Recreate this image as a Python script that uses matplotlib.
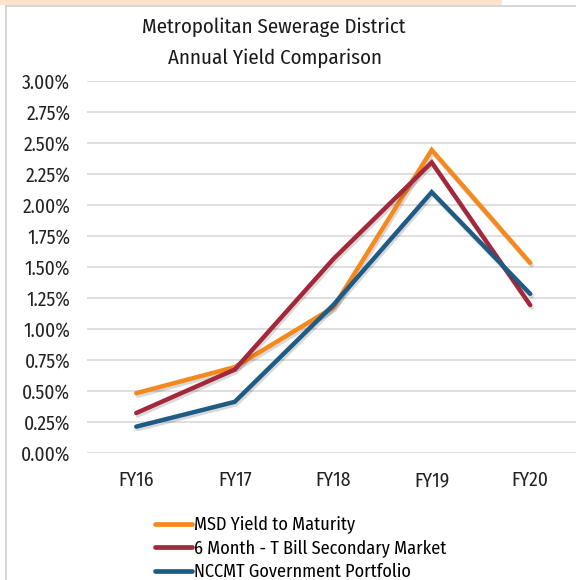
import matplotlib
matplotlib.use("Agg")
import matplotlib.pyplot as plt
import matplotlib.patheffects as pe
from matplotlib.patches import Rectangle
from matplotlib.lines import Line2D
from matplotlib import font_manager

names = {f.name for f in font_manager.fontManager.ttflist}
cond = 'DejaVu Sans'
for cand in ['Ubuntu Condensed', 'Fira Sans Condensed', 'Roboto Condensed', 'Encode Sans Condensed']:
    if cand in names:
        cond = cand
        break
plt.rcParams['font.family'] = [cond, 'DejaVu Sans']

categories = ["FY16", "FY17", "FY18", "FY19", "FY20"]
msd = [0.48, 0.69, 1.17, 2.44, 1.53]
tbill = [0.32, 0.67, 1.56, 2.34, 1.19]
nccmt = [0.21, 0.41, 1.19, 2.10, 1.28]
series_names = ["MSD Yield to Maturity", "6 Month - T Bill Secondary Market",
                "NCCMT Government Portfolio"]
colors = ["#F5891E", "#A3283B", "#1F5B84"]
yticks = [0.0, 0.25, 0.5, 0.75, 1.0, 1.25, 1.5, 1.75, 2.0, 2.25, 2.5, 2.75, 3.0]

W, H = 576, 580
fig = plt.figure(figsize=(W / 100, H / 100), dpi=100)
fig.patch.set_facecolor('white')

# top peach band and light frame
fig.patches.append(Rectangle((0, 1 - 5 / H), 502 / W, 5 / H, transform=fig.transFigure,
                             facecolor='#FDE3CC', edgecolor='none', zorder=0))
fig.add_artist(Line2D([6 / W, 6 / W], [0, 1 - 6 / H], transform=fig.transFigure,
                      color='#D0D0D0', lw=1.2))
fig.add_artist(Line2D([6 / W, 1], [1 - 6 / H, 1 - 6 / H], transform=fig.transFigure,
                      color='#D0D0D0', lw=1.2))

left = 87 / W
bottom = 1 - 452.7 / H
top = 1 - 80.5 / H
ax = fig.add_axes([left, bottom, 1 - left, top - bottom])
x = list(range(len(categories)))
shadow = [pe.SimpleLineShadow(offset=(1.0, -1.8), alpha=0.15, shadow_color='black'), pe.Normal()]
for vals, c, n in zip([msd, tbill, nccmt], colors, series_names):
    ax.plot(x, vals, color=c, lw=3.2, solid_capstyle='round', solid_joinstyle='miter',
            label=n, path_effects=shadow, zorder=3)

ax.set_xlim(-0.5, 4.465)
ax.set_ylim(0, 3.0)
ax.set_yticks(yticks)
ax.set_yticklabels([f"{v:.2f}%" for v in yticks], fontsize=14, color='#222222')
ax.set_xticks(x)
ax.set_xticklabels(categories, fontsize=14, color='#222222')
ax.tick_params(axis='both', length=0)
ax.tick_params(axis='y', pad=12)
ax.tick_params(axis='x', pad=13)
ax.grid(axis='y', color='#D9D9D9', lw=1.2)
ax.set_axisbelow(True)
for s in ax.spines.values():
    s.set_visible(False)

fig.text(274 / W, 1 - 27 / H, "Metropolitan Sewerage District", ha='center', va='center',
         fontsize=15, color='#1A1A1A')
fig.text(275 / W, 1 - 58 / H, "Annual Yield Comparison", ha='center', va='center',
         fontsize=15, color='#1A1A1A')

handles = [Line2D([0], [0], color=c, lw=3.4, solid_capstyle='round') for c in colors]
fig.legend(handles, series_names, loc='upper left', bbox_to_anchor=(155 / W, 1 - 516 / H),
           frameon=False, fontsize=13.1, handlelength=2.05, handletextpad=0.1,
           labelspacing=0.3, borderpad=0, borderaxespad=0)

fig.savefig("out.png", dpi=100)
